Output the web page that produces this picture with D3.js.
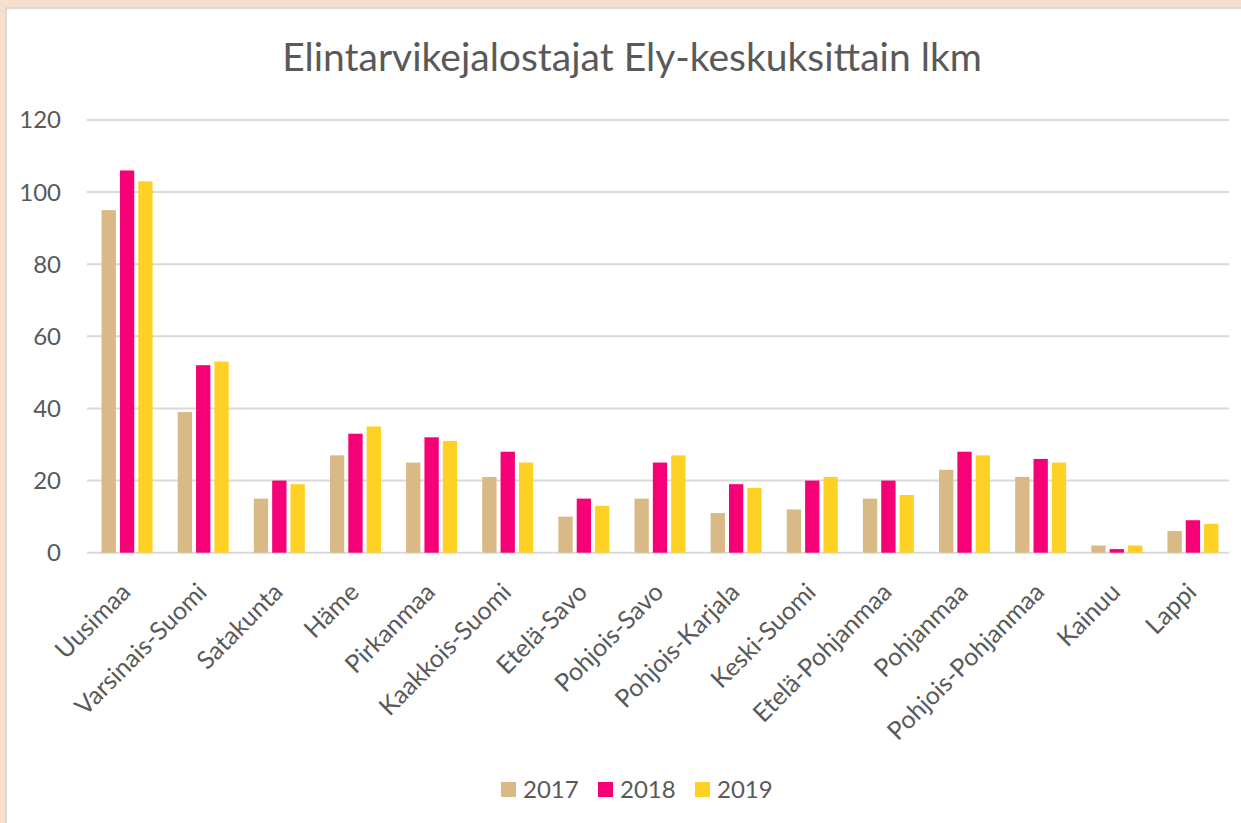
<!DOCTYPE html>
<html>
<head>
<meta charset="utf-8">
<script src="https://cdn.jsdelivr.net/npm/d3@7"></script>
<style>
  html, body { margin: 0; padding: 0; background: #f6dfcd; }
  #chart { position: absolute; left: 5px; top: 7px; width: 1236px; height: 816px;
           background: #fff; border-left: 2px solid #d9d9d9; border-top: 2px solid #d9d9d9; }
  text { font-family: Lato, "Noto Sans", sans-serif; fill: #595959; }
</style>
</head>
<body>
<div id="chart"></div>
<script>
// Data
const categories = ["Uusimaa", "Varsinais-Suomi", "Satakunta", "Häme", "Pirkanmaa",
  "Kaakkois-Suomi", "Etelä-Savo", "Pohjois-Savo", "Pohjois-Karjala", "Keski-Suomi",
  "Etelä-Pohjanmaa", "Pohjanmaa", "Pohjois-Pohjanmaa", "Kainuu", "Lappi"];
const years = ["2017", "2018", "2019"];
const values2017 = [95, 39, 15, 27, 25, 21, 10, 15, 11, 12, 15, 23, 21, 2, 6];
const values2018 = [106, 52, 20, 33, 32, 28, 15, 25, 19, 20, 20, 28, 26, 1, 9];
const values2019 = [103, 53, 19, 35, 31, 25, 13, 27, 18, 21, 16, 27, 25, 2, 8];
const yTicks = [0, 20, 40, 60, 80, 100, 120];
const colors = ["#d9b986", "#f50076", "#ffd124"];

const series = [values2017, values2018, values2019];

const width = 1241, height = 823;
const margin = { left: 87, right: 12, top: 120, bottom: 270 };

const svg = d3.select("body").append("svg")
  .attr("width", width).attr("height", height)
  .style("position", "absolute").style("left", 0).style("top", 0);

const x = d3.scaleBand().domain(categories)
  .range([margin.left, width - margin.right]);
const xInner = d3.scaleBand().domain(years)
  .range([0, 51]).paddingInner(0.22).paddingOuter(0);
const y = d3.scaleLinear().domain([0, 120])
  .range([height - margin.bottom - 0.3, margin.top]);

// Title
svg.append("text")
  .attr("x", 632).attr("y", 71)
  .attr("text-anchor", "middle")
  .style("font-size", "39px")
  .text("Elintarvikejalostajat Ely-keskuksittain lkm");

// Gridlines
svg.append("g").selectAll("line").data(yTicks).join("line")
  .attr("x1", margin.left).attr("x2", width - margin.right)
  .attr("y1", d => y(d)).attr("y2", d => y(d))
  .attr("stroke", "#d9d9d9").attr("stroke-width", 2);

// Y axis labels
svg.append("g").selectAll("text").data(yTicks).join("text")
  .attr("x", 61).attr("y", d => y(d))
  .attr("dy", "0.35em")
  .attr("text-anchor", "end")
  .style("font-size", "24px")
  .text(d => d);

// Bars
const groups = svg.append("g").selectAll("g").data(categories).join("g")
  .attr("transform", d => `translate(${x(d) + (x.bandwidth() - 51) / 2 + 2},0)`);

groups.selectAll("rect")
  .data((c, i) => years.map((yr, k) => ({ year: yr, value: series[k][i], k })))
  .join("rect")
  .attr("x", d => xInner(d.year))
  .attr("width", xInner.bandwidth())
  .attr("y", d => y(d.value))
  .attr("height", d => y(0) - y(d.value))
  .attr("fill", d => colors[d.k]);

// X labels (rotated)
svg.append("g").selectAll("text").data(categories).join("text")
  .attr("transform", d => `translate(${x(d) + x.bandwidth() / 2 + 7},${y(0) + 41}) rotate(-45)`)
  .attr("text-anchor", "end")
  .style("font-size", "25px")
  .text(d => d);

// Legend
const legend = svg.append("g").attr("transform", "translate(501,790)");
const lx = [0, 97, 194];
years.forEach((yr, k) => {
  const g = legend.append("g").attr("transform", `translate(${lx[k]},0)`);
  g.append("rect").attr("x", 0).attr("y", -8).attr("width", 15).attr("height", 15)
    .attr("fill", colors[k]);
  g.append("text").attr("x", 22).attr("y", 0).attr("dy", "0.35em")
    .style("font-size", "24px").text(yr);
});
</script>
</body>
</html>
